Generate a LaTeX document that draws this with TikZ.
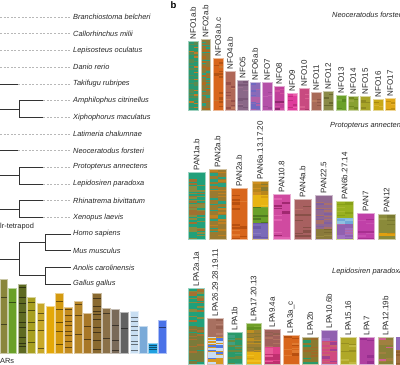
\documentclass[tikz,border=0pt]{standalone}
\usepackage{fontspec}
\setmainfont{Liberation Sans}
\newcommand{\cols}[3]{\definecolor{cA}{HTML}{#1}\definecolor{cB}{HTML}{#2}\definecolor{cC}{HTML}{#3}}
% mosaic bar: x1,x2,top,bottom,t1,t2 (colours cA,cB,cC)
\newcommand{\mbar}[6]{%
  \begin{scope}
    \clip (#1,#3) rectangle (#2,#4);
    \fill[cA] (#1,#3) rectangle (#2,#4);
    \pgfmathsetmacro\xmid{#1+(#2-#1)*0.55}
    \pgfmathtruncatemacro\nrow{(#4-#3)/1.4}
    \foreach \kk in {0,...,\nrow}{
      \foreach \col in {0,1}{
        \pgfmathsetmacro\rv{frac(abs(sin(\kk*127.1+\col*311.7+#1*17.3+#3*3.7))*937.77)}
        \pgfmathsetmacro\xa{\col==0 ? #1 : \xmid}
        \pgfmathsetmacro\xb{\col==0 ? \xmid : #2}
        \pgfmathsetmacro\ya{#3+\kk*1.4}
        \ifdim\rv pt<#5pt\def\curcol{cA}\else\ifdim\rv pt<#6pt\def\curcol{cB}\else\def\curcol{cC}\fi\fi
        \fill[\curcol] (\xa,\ya) rectangle (\xb,\ya+1.5);
      }
    }
  \end{scope}
}
% bar outline
\newcommand{\bord}[4]{\draw[cA!45!white, line width=0.45pt] (#1,#3) rectangle (#2,#4);}
% left chart bar: x1,x2,top,bottom,HTML colour,n lines
\newcommand{\lbar}[6]{%
  \definecolor{lc}{HTML}{#5}%
  \fill[lc] (#1,#3) rectangle (#2,#4);
  \ifnum#6>0
  \foreach \kk in {1,...,#6}{%
    \pgfmathsetmacro\yy{#3+2+frac(\kk*0.618034+#1*0.0731)*(#4-#3-4)}
    \draw[lc!50!black, line width=0.5pt] (#1,\yy) -- (#2,\yy);
  }\fi
  \draw[lc!45!white, line width=0.45pt] (#1,#3) rectangle (#2,#4);
}
\newcommand{\barlabel}[5]{\node[blab] (#1) at ({(#2+#3)/2},{#4-1.5}) {#5};}
\newcommand{\pairclade}[4]{%
  \coordinate (o#1) at (0,{(#3+#4)/2});
  \coordinate (j#1) at (19,{(#3+#4)/2});
  \coordinate (ja#1) at (19,#3); \coordinate (jb#1) at (19,#4);
  \coordinate (ka#1) at (43,#3); \coordinate (kb#1) at (43,#4);
  \draw[tline] (o#1) -- (j#1);
  \draw[tline] (ja#1) -- (jb#1);
  \draw[tline] (ja#1) -- (ka#1);
  \draw[tline] (jb#1) -- (kb#1);
  \draw[dline] (ka#1) -- (s#1.west);
  \draw[dline] (kb#1) -- (s#2.west);
}
\begin{document}
\begin{tikzpicture}[x=1pt,y=-1pt,
  tline/.style={draw=black!80, line width=0.6pt},
  dline/.style={draw=black!28, line width=0.45pt, dash pattern=on 2pt off 1.6pt, shorten >=2pt},
  sp/.style={anchor=west, font=\fontsize{7.4}{8}\selectfont\itshape, inner sep=0pt, text=black!85},
  blab/.style={rotate=90, anchor=west, font=\fontsize{8}{9}\selectfont, inner sep=0pt, text=black!85},
  plainlab/.style={anchor=west, font=\fontsize{7.4}{8}\selectfont, inner sep=0pt, text=black!85}]
\useasboundingbox (0,0) rectangle (400,365);

% ---------------- species names ----------------
\node[sp] (s0) at (73,17) {Branchiostoma belcheri};
\node[sp] (s1) at (73,33.7) {Callorhinchus milii};
\node[sp] (s2) at (73,50.4) {Lepisosteus oculatus};
\node[sp] (s3) at (73,67.1) {Danio rerio};
\node[sp] (s4) at (73,83.8) {Takifugu rubripes};
\node[sp] (s5) at (73,100.5) {Amphilophus citrinellus};
\node[sp] (s6) at (73,117.1) {Xiphophorus maculatus};
\node[sp] (s7) at (73,133.8) {Latimeria chalumnae};
\node[sp] (s8) at (73,150.5) {Neoceratodus forsteri};
\node[sp] (s9) at (73,167.2) {Protopterus annectens};
\node[sp] (s10) at (73,183.9) {Lepidosiren paradoxa};
\node[sp] (s11) at (73,200.6) {Rhinatrema bivittatum};
\node[sp] (s12) at (73,217.3) {Xenopus laevis};
\node[sp] (s13) at (73,234) {Homo sapiens};
\node[sp] (s14) at (73,250.7) {Mus musculus};
\node[sp] (s15) at (73,267.4) {Anolis carolinensis};
\node[sp] (s16) at (73,284) {Gallus gallus};

% ---------------- tree ----------------
\foreach \i/\yy in {0/17,1/33.7,2/50.4,3/67.1,7/133.8}{
  \coordinate (o\i) at (0,\yy);
  \draw[dline] (o\i) -- (s\i.west);
}
\foreach \i/\yy in {4/83.8,8/150.5}{
  \coordinate (o\i) at (0,\yy);
  \coordinate (e\i) at (18,\yy);
  \draw[tline] (o\i) -- (e\i);
  \draw[dline] (e\i) -- (s\i.west);
}
\pairclade{5}{6}{100.5}{117.1}
\pairclade{9}{10}{167.2}{183.9}
\pairclade{11}{12}{200.6}{217.3}
% tetrapods
\coordinate (oT) at (0,259);
\coordinate (jT) at (19,259);
\coordinate (jTa) at (19,242.35);
\coordinate (jTb) at (19,275.7);
\coordinate (hM) at (45,242.35);
\coordinate (hS) at (45,275.7);
\coordinate (h13) at (45,234);
\coordinate (h14) at (45,250.7);
\coordinate (h15) at (45,267.4);
\coordinate (h16) at (45,284);
\draw[tline] (oT) -- (jT);
\draw[tline] (jTa) -- (jTb);
\draw[tline] (jTa) -- (hM);
\draw[tline] (jTb) -- (hS);
\draw[tline] (h13) -- (h14);
\draw[tline] (h15) -- (h16);
\foreach \i in {13,14,15,16}{\draw[tline, shorten >=2pt] (h\i) -- (s\i.west);}
\node[plainlab] (tetra) at (0,227) {lr-tetrapod};

% ---------------- left bar chart ----------------
\lbar{0}{7}{279}{353}{8A863C}{2}
\lbar{8}{16}{288}{353}{6AA028}{1}
\lbar{18}{26}{284}{353}{5E6A22}{9}
\lbar{27}{35}{297}{353}{A8A020}{5}
\lbar{37}{44}{303}{353}{C8A828}{4}
\lbar{46}{54}{306}{353}{E4A808}{0}
\lbar{55}{63}{293}{353}{D49A10}{5}
\lbar{64}{72}{307}{353}{C48C20}{8}
\lbar{74}{82}{301}{353}{B8882A}{3}
\lbar{83}{91}{313}{353}{A87828}{2}
\lbar{92}{101}{293}{353}{8A6A30}{9}
\lbar{102}{110}{308}{353}{8A7048}{2}
\lbar{111}{119}{309}{353}{7A6A58}{3}
\lbar{120}{128}{312}{353}{626262}{1}
\lbar{130}{138}{311}{353}{C8DEF2}{8}
\lbar{139}{147}{326}{353}{7AAAD8}{0}
\lbar{148}{157}{343}{353}{20A0E0}{3}
\lbar{158}{166}{320}{353}{4A72E8}{1}
\node[plainlab] (ars) at (0,361) {ARs};

% ---------------- panel b ----------------
\node[anchor=north west, inner sep=0pt, font=\bfseries\fontsize{9.5}{10}\selectfont] (pb) at (170.5,1.5) {b};
\node[sp] (tN) at (332,15) {Neoceratodus forsteri};
\node[sp] (tP) at (330,126) {Protopterus annectens};
\node[sp] (tL) at (332,272) {Lepidosiren paradoxa};

% NFO
\cols{2A9870}{5A8A50}{C07A28}\mbar{188}{198}{41}{110}{0.6}{0.9}\bord{188}{198}{41}{110}
\cols{8A7A3A}{B06A20}{28A080}\mbar{201}{210}{39}{110}{0.55}{0.82}\bord{201}{210}{39}{110}
\cols{D8661C}{B45414}{C87830}\mbar{213}{223}{58}{110}{0.78}{0.93}\bord{213}{223}{58}{110}
\cols{B06858}{985048}{C07A60}\mbar{225}{235}{71}{110}{0.78}{0.93}\bord{225}{235}{71}{110}
\cols{8A6888}{7A5878}{9A7090}\mbar{237}{248}{80}{110}{0.78}{0.93}\bord{237}{248}{80}{110}
\cols{8A6AB8}{7068C0}{B060A8}\mbar{250}{260}{82}{110}{0.65}{0.88}\bord{250}{260}{82}{110}
\cols{B450A8}{A04898}{C060B0}\mbar{262}{272}{82}{110}{0.78}{0.93}\bord{262}{272}{82}{110}
\cols{C0409A}{902870}{D050A0}\mbar{274}{284}{86}{110}{0.78}{0.9}\bord{274}{284}{86}{110}
\cols{E03C9C}{C03080}{E860A8}\mbar{287}{297}{93}{110}{0.78}{0.93}\bord{287}{297}{93}{110}
\cols{C84A80}{A83868}{D86090}\mbar{299}{309}{88}{110}{0.78}{0.93}\bord{299}{309}{88}{110}
\cols{A86A58}{905848}{B87A60}\mbar{311}{321}{92}{110}{0.78}{0.93}\bord{311}{321}{92}{110}
\cols{8A8A48}{6A6A30}{9A9A50}\mbar{323}{333}{91}{110}{0.78}{0.93}\bord{323}{333}{91}{110}
\cols{6AA028}{5A8A20}{78A838}\mbar{336}{346}{95}{110}{0.78}{0.93}\bord{336}{346}{95}{110}
\cols{88A030}{708820}{98A840}\mbar{348}{358}{96}{110}{0.78}{0.93}\bord{348}{358}{96}{110}
\cols{A8A428}{908A20}{B8B040}\mbar{360}{370}{96}{110}{0.78}{0.93}\bord{360}{370}{96}{110}
\cols{C8A818}{A88810}{D8B030}\mbar{373}{383}{99}{110}{0.78}{0.93}\bord{373}{383}{99}{110}
\cols{E0A818}{C09010}{E8B030}\mbar{385}{395}{98}{110}{0.78}{0.93}\bord{385}{395}{98}{110}
\barlabel{n1}{188}{198}{41}{NFO1a.b}
\barlabel{n2}{201}{210}{39}{NFO2a.b}
\barlabel{n3}{213}{223}{58}{NFO3a.b.c}
\barlabel{n4}{225}{235}{71}{NFO4a.b}
\barlabel{n5}{237}{248}{80}{NFO5}
\barlabel{n6}{250}{260}{82}{NFO6a.b}
\barlabel{n7}{262}{272}{82}{NFO7}
\barlabel{n8}{274}{284}{86}{NFO8}
\barlabel{n9}{287}{297}{93}{NFO9}
\barlabel{n10}{299}{309}{88}{NFO10}
\barlabel{n11}{311}{321}{92}{NFO11}
\barlabel{n12}{323}{333}{91}{NFO12}
\barlabel{n13}{336}{346}{95}{NFO13}
\barlabel{n14}{348}{358}{96}{NFO14}
\barlabel{n15}{360}{370}{96}{NFO15}
\barlabel{n16}{373}{383}{99}{NFO16}
\barlabel{n17}{385}{395}{98}{NFO17}

% PAN
\cols{20A07A}{8A8A40}{A07030}\mbar{188}{205}{172}{239}{0.55}{0.88}\bord{188}{205}{172}{239}
\cols{9A7A30}{28A080}{C08020}\mbar{209}{226}{169}{239}{0.6}{0.78}\bord{209}{226}{169}{239}
\cols{D8661C}{B85010}{E07A30}\mbar{231}{247}{188}{239}{0.78}{0.93}\bord{231}{247}{188}{239}
\cols{B8861C}{8A7A30}{D09020}\mbar{252}{268}{181}{195}{0.55}{0.85}
\cols{E8B412}{D8A010}{F0C020}\mbar{252}{268}{195}{207}{0.78}{0.93}
\cols{6AA028}{507A20}{78A838}\mbar{252}{268}{207}{223}{0.8}{0.93}
\cols{7A6AB8}{6A5AA8}{8A78C0}\mbar{252}{268}{223}{239}{0.78}{0.93}
\cols{B8861C}{8A7A30}{D09020}\bord{252}{268}{181}{239}
\cols{D04AA0}{A02870}{E060B0}\mbar{273}{290}{194}{239}{0.78}{0.9}\bord{273}{290}{194}{239}
\cols{A86060}{885048}{B87068}\mbar{294}{311}{199}{239}{0.78}{0.93}\bord{294}{311}{199}{239}
\cols{906890}{A8706A}{8060A0}\mbar{315}{332}{195}{229}{0.5}{0.82}
\cols{8A7A3A}{7A6A30}{9A8A40}\mbar{315}{332}{229}{239}{0.78}{0.93}
\cols{906890}{A8706A}{8060A0}\bord{315}{332}{195}{239}
\cols{98B020}{88A018}{A8B830}\mbar{336}{353}{201}{218}{0.78}{0.93}
\cols{80B8E0}{90C0E0}{70A8D8}\mbar{336}{353}{218}{224}{0.78}{0.93}
\cols{9060B0}{A070C0}{B068A8}\mbar{336}{353}{224}{239}{0.65}{0.88}
\cols{98B020}{88A018}{A8B830}\bord{336}{353}{201}{239}
\cols{C040A8}{A83090}{C850B0}\mbar{357}{374}{213}{239}{0.78}{0.93}\bord{357}{374}{213}{239}
\cols{8A8A3A}{7A7A30}{9A9A48}\mbar{378}{395}{214}{233}{0.78}{0.93}
\cols{E0A010}{D09010}{E8B020}\mbar{378}{395}{233}{236}{0.78}{0.93}
\cols{8A8A3A}{7A7A30}{9A9A48}\mbar{378}{395}{236}{239}{0.78}{0.93}\bord{378}{395}{214}{239}
\barlabel{p1}{188}{205}{172}{PAN1a.b}
\barlabel{p2}{209}{226}{169}{PAN2a.b}
\barlabel{p3}{231}{247}{188}{PAN2a.b}
\barlabel{p4}{252}{268}{181}{PAN6a.13.17.20}
\barlabel{p5}{273}{290}{194}{PAN10.8}
\barlabel{p6}{294}{311}{199}{PAN4a.b}
\barlabel{p7}{315}{332}{195}{PAN22.5}
\barlabel{p8}{336}{353}{201}{PAN6b.27.14}
\barlabel{p9}{357}{374}{213}{PAN7}
\barlabel{p10}{378}{395}{214}{PAN12}

% LPA
\cols{20A07A}{8A8A40}{A87030}\mbar{188}{204}{288}{326}{0.62}{0.88}
\cols{7A7A3A}{20A07A}{A87030}\mbar{188}{204}{326}{364}{0.62}{0.82}
\cols{20A07A}{8A8A40}{A87030}\bord{188}{204}{288}{364}
\cols{A87060}{986050}{B88070}\mbar{207}{223}{318}{337}{0.78}{0.93}
\cols{D89820}{5078E0}{C8DCF0}\mbar{207}{223}{337}{364}{0.42}{0.72}
\cols{A87060}{986050}{B88070}\bord{207}{223}{318}{364}
\cols{2A9A6A}{6A8A40}{40A080}\mbar{227}{242}{332}{364}{0.65}{0.88}\bord{227}{242}{332}{364}
\cols{70A028}{609020}{80A838}\mbar{246}{261}{323}{330}{0.78}{0.93}
\cols{A08030}{8A7A30}{C09020}\mbar{246}{261}{330}{352}{0.55}{0.85}
\cols{E8B010}{D8A010}{F0C020}\mbar{246}{261}{352}{364}{0.78}{0.93}
\cols{70A028}{609020}{80A838}\bord{246}{261}{323}{364}
\cols{A0605A}{B07060}{906050}\mbar{264}{280}{329}{347}{0.65}{0.88}
\cols{E0408A}{C03070}{E85A98}\mbar{264}{280}{347}{364}{0.65}{0.88}
\cols{A0605A}{B07060}{906050}\bord{264}{280}{329}{364}
\cols{D8661C}{B85010}{E07A30}\mbar{283}{299}{335}{364}{0.78}{0.93}\bord{283}{299}{335}{364}
\cols{8A7A30}{2A9A6A}{A06A28}\mbar{302}{318}{337}{364}{0.6}{0.82}\bord{302}{318}{337}{364}
\cols{9060B0}{A070C0}{8050A0}\mbar{321}{337}{330}{341}{0.78}{0.93}
\cols{D04A80}{A04090}{C86070}\mbar{321}{337}{341}{364}{0.55}{0.82}
\cols{9060B0}{A070C0}{8050A0}\bord{321}{337}{330}{364}
\cols{B0A828}{989020}{C0B840}\mbar{340}{356}{337}{364}{0.78}{0.93}\bord{340}{356}{337}{364}
\cols{B040A0}{983090}{C050B0}\mbar{359}{374}{337}{364}{0.78}{0.93}\bord{359}{374}{337}{364}
\cols{8A8038}{D06090}{A08040}\mbar{378}{393}{337}{364}{0.7}{0.82}\bord{378}{393}{337}{364}
\cols{9068B8}{8058A8}{A078C0}\mbar{396}{406}{337}{350}{0.78}{0.93}
\cols{A07040}{906030}{B08050}\mbar{396}{406}{350}{364}{0.78}{0.93}
\barlabel{l1}{188}{204}{288}{LPA2a.1a}
\barlabel{l2}{207}{223}{318}{LPA26.29.28.19.11}
\barlabel{l3}{227}{242}{332}{LPA1b}
\barlabel{l4}{246}{261}{323}{LPA17.20.13}
\barlabel{l5}{264}{280}{329}{LPA9.4a}
\barlabel{l6}{283}{299}{335}{LPA3a\_c}
\barlabel{l7}{302}{318}{337}{LPA2b}
\barlabel{l8}{321}{337}{330}{LPA10.6b}
\barlabel{l9}{340}{356}{337}{LPA15.16}
\barlabel{l10}{359}{374}{337}{LPA7}
\barlabel{l11}{378}{393}{337}{LPA12.19b}
\end{tikzpicture}
\end{document}
